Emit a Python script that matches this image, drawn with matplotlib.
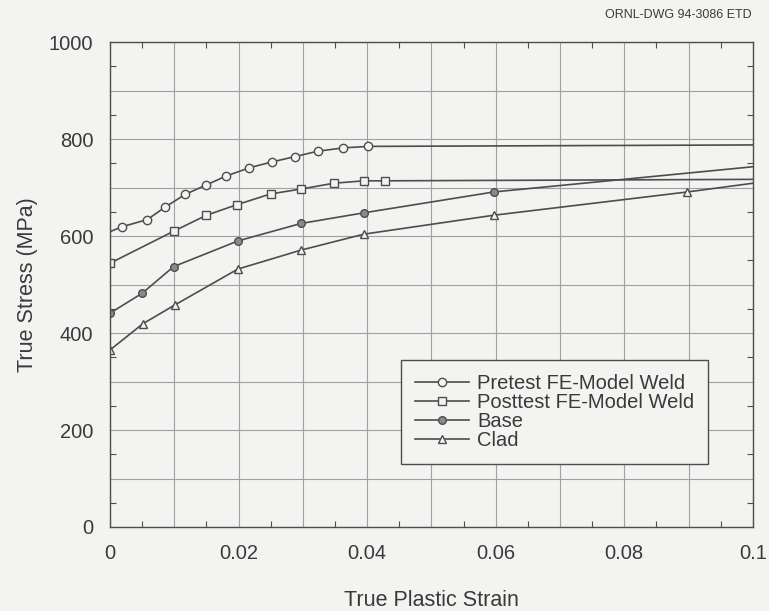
import numpy as np
import matplotlib
matplotlib.use("Agg")
import matplotlib.pyplot as plt
from matplotlib.ticker import MultipleLocator

plt.rcParams['font.family'] = ['Liberation Sans', 'DejaVu Sans']

# values
pretest_strain = [0, 0.0018, 0.0058, 0.0086, 0.0117, 0.0149, 0.0181, 0.0217,
                  0.0252, 0.0288, 0.0323, 0.0363, 0.0402, 0.1]
pretest_stress = [609, 619, 634, 660, 686, 705, 724, 741, 753, 764, 775, 782, 785, 788]

posttest_strain = [0, 0.0099, 0.015, 0.0198, 0.025, 0.0297, 0.0348, 0.0395, 0.0428, 0.1]
posttest_stress = [544, 610, 643, 665, 687, 697, 709, 714, 714, 717]

base_strain = [0, 0.005, 0.0099, 0.0199, 0.0297, 0.0395, 0.0597, 0.1]
base_stress = [441, 482, 537, 590, 626, 648, 691, 743]

clad_strain = [0, 0.0051, 0.0101, 0.0199, 0.0297, 0.0395, 0.0597, 0.0898, 0.1]
clad_stress = [365, 419, 458, 532, 571, 604, 643, 691, 709]

x_ticks = [0, 0.01, 0.02, 0.03, 0.04, 0.05, 0.06, 0.07, 0.08, 0.09, 0.1]
x_labels = ['0', '', '0.02', '', '0.04', '', '0.06', '', '0.08', '', '0.1']
y_ticks = [0, 100, 200, 300, 400, 500, 600, 700, 800, 900, 1000]
y_labels = ['0', '', '200', '', '400', '', '600', '', '800', '', '1000']

paper = '#f3f3f1'
ink = '#4d4d4d'
txt = '#3a3a3a'

fig = plt.figure(figsize=(7.69, 6.11), dpi=100, facecolor=paper)
ax = fig.add_axes([0.143, 0.1375, 0.836, 0.7935], facecolor=paper)

line_kw = dict(color=ink, lw=1.2, mec=ink, mfc=paper, mew=1.0)
ax.plot(pretest_strain, pretest_stress, marker='o', ms=6,
        markevery=list(range(1, len(pretest_strain) - 1)),
        label='Pretest FE-Model Weld', **line_kw)
ax.plot(posttest_strain, posttest_stress, marker='s', ms=6,
        markevery=list(range(0, len(posttest_strain) - 1)),
        label='Posttest FE-Model Weld', **line_kw)
ax.plot(base_strain, base_stress, marker='o', ms=5.5,
        markevery=list(range(0, len(base_strain) - 1)),
        label='Base', color=ink, lw=1.2, mec=ink, mfc='#8a8a8a', mew=1.0)
ax.plot(clad_strain, clad_stress, marker='^', ms=6,
        markevery=list(range(0, len(clad_strain) - 1)),
        label='Clad', **line_kw)

ax.set_xlim(0, 0.1)
ax.set_ylim(0, 1000)
ax.set_xticks(x_ticks)
ax.set_xticklabels(x_labels)
ax.set_yticks(y_ticks)
ax.set_yticklabels(y_labels)
ax.xaxis.set_minor_locator(MultipleLocator(0.005))
ax.yaxis.set_minor_locator(MultipleLocator(50))
ax.tick_params(which='both', direction='in', top=True, right=True,
               color=ink, labelsize=14.5, labelcolor=txt)
ax.tick_params(which='major', length=0, pad=12)
ax.tick_params(which='minor', length=4, width=0.8)
ax.grid(True, which='major', color='#a0a0a0', lw=0.8)
for s in ax.spines.values():
    s.set_color(ink)
    s.set_linewidth(1.0)

ax.set_xlabel('True Plastic Strain', fontsize=15.5, color=txt, labelpad=20)
ax.set_ylabel('True Stress (MPa)', fontsize=15.5, color=txt, labelpad=8)

leg = ax.legend(loc='upper left', bbox_to_anchor=(0.452, 0.344), fontsize=14.5,
                frameon=True, fancybox=False, edgecolor=ink, facecolor=paper,
                framealpha=1, labelspacing=0.0, handlelength=2.7,
                handletextpad=0.4, borderpad=0.7, borderaxespad=0,
                labelcolor=txt)
leg.get_frame().set_linewidth(1.0)

fig.text(0.978, 0.975, 'ORNL-DWG 94-3086 ETD', ha='right', va='center',
         fontsize=9, color=txt)

fig.savefig('out.png', dpi=100, facecolor=paper)
